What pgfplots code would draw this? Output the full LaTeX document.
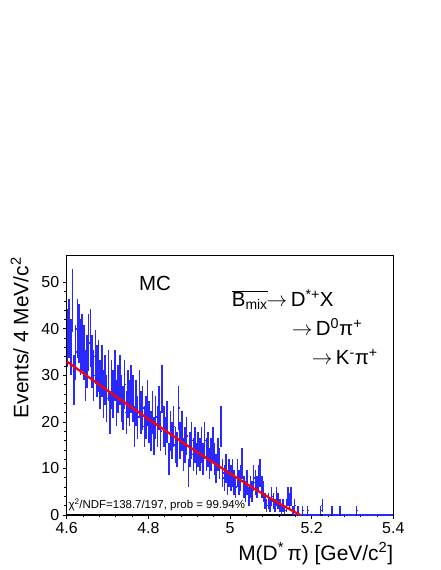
\documentclass[border=0pt]{standalone}
\usepackage{pgfplots}
\pgfplotsset{compat=1.18}
\usepackage{pgfplotstable}
\usepackage{fontspec}
\setmainfont{Liberation Sans}
\definecolor{histblue}{RGB}{40,40,255}
\pgfplotstableread[row sep=\\]{
x y\\
4.602 38\\ 4.606 40\\ 4.610 36\\ 4.614 46\\ 4.618 29\\ 4.622 35\\ 4.626 40\\ 4.630 39\\ 4.634 36\\ 4.638 37\\
4.642 35\\ 4.646 30\\ 4.650 33\\ 4.654 37\\ 4.658 38\\ 4.662 33\\ 4.666 30\\ 4.670 34\\ 4.674 31\\ 4.678 32\\
4.682 28\\ 4.686 31\\ 4.690 26\\ 4.694 29\\ 4.698 25\\ 4.702 30\\ 4.706 22\\ 4.710 28\\ 4.714 26\\ 4.718 30\\
4.722 24\\ 4.726 27\\ 4.730 29\\ 4.734 25\\ 4.738 23\\ 4.742 28\\ 4.746 22\\ 4.750 26\\ 4.754 24\\ 4.758 27\\
4.762 25\\ 4.766 19\\ 4.770 24\\ 4.774 21\\ 4.778 26\\ 4.782 22\\ 4.786 23\\ 4.790 19\\ 4.794 21\\ 4.798 24\\
4.802 20\\ 4.806 18\\ 4.810 22\\ 4.814 17\\ 4.818 21\\ 4.822 19\\ 4.826 23\\ 4.830 18\\ 4.834 27\\ 4.838 19\\
4.842 17\\ 4.846 20\\ 4.850 12\\ 4.854 18\\ 4.858 16\\ 4.862 19\\ 4.866 15\\ 4.870 14\\ 4.874 23\\ 4.878 16\\
4.882 18\\ 4.886 13\\ 4.890 15\\ 4.894 17\\ 4.898 9\\ 4.902 14\\ 4.906 16\\ 4.910 13\\ 4.914 15\\ 4.918 12\\
4.922 14\\ 4.926 13\\ 4.930 15\\ 4.934 12\\ 4.938 16\\ 4.942 13\\ 4.946 14\\ 4.950 11\\ 4.954 13\\ 4.958 15\\
4.962 12\\ 4.966 10\\ 4.970 13\\ 4.974 11\\ 4.978 19\\ 4.982 9\\ 4.986 8\\ 4.990 10\\ 4.994 7\\ 4.998 9\\
5.002 8\\ 5.006 9\\ 5.010 7\\ 5.014 6\\ 5.018 9\\ 5.022 7\\ 5.026 8\\ 5.030 11\\ 5.034 6\\ 5.038 5\\
5.042 7\\ 5.046 4\\ 5.050 6\\ 5.054 5\\ 5.058 8\\ 5.062 7\\ 5.066 6\\ 5.070 8\\ 5.074 9\\ 5.078 6\\
5.082 5\\ 5.086 3\\ 5.090 2\\ 5.094 3\\ 5.098 2\\ 5.102 4\\ 5.106 3\\ 5.110 2\\ 5.114 4\\ 5.118 3\\
5.122 2\\ 5.126 1\\ 5.130 2\\ 5.134 1\\ 5.138 2\\ 5.142 4\\ 5.146 3\\ 5.150 4\\ 5.154 1\\ 5.158 2\\
5.162 0\\ 5.166 1\\ 5.170 0\\ 5.174 0\\ 5.178 1\\ 5.182 0\\ 5.186 0\\ 5.190 1\\ 5.194 0\\ 5.198 0\\
5.202 0\\ 5.206 0\\ 5.210 0\\ 5.214 0\\ 5.218 0\\ 5.222 1\\ 5.226 2\\ 5.230 0\\ 5.234 0\\ 5.238 0\\
5.242 0\\ 5.246 0\\ 5.250 1\\ 5.254 0\\ 5.258 0\\ 5.262 0\\ 5.266 0\\ 5.270 1\\ 5.274 0\\ 5.278 0\\
5.282 0\\ 5.286 0\\ 5.290 0\\ 5.294 0\\ 5.298 0\\ 5.302 0\\ 5.306 0\\ 5.310 1\\ 5.314 0\\ 5.318 0\\
5.322 0\\ 5.326 0\\ 5.330 0\\ 5.334 0\\ 5.338 0\\ 5.342 0\\ 5.346 0\\ 5.350 0\\ 5.354 0\\ 5.358 0\\
5.362 0\\ 5.366 0\\ 5.370 0\\ 5.374 0\\ 5.378 0\\ 5.382 0\\ 5.386 0\\ 5.390 0\\ 5.394 0\\ 5.398 0\\
}\histdata
\pgfplotstableread[row sep=\\]{
x y\\
4.600 33.0\\ 4.650 29.86\\ 4.700 26.74\\ 4.750 23.66\\ 4.800 20.63\\ 4.850 17.62\\
4.900 14.66\\ 4.950 11.76\\ 5.000 8.92\\ 5.050 6.16\\ 5.100 3.51\\ 5.150 1.05\\ 5.172 0.0\\
}\fitdata
\begin{document}
\begin{tikzpicture}
\useasboundingbox (0,0) rectangle (441bp,570bp);
\begin{axis}[
  at={(66.7bp,55bp)}, anchor=south west,
  scale only axis, width=326.6bp, height=259.3bp,
  xmin=4.6, xmax=5.4, ymin=0, ymax=55.7,
  xtick={4.6,4.8,5,5.2,5.4}, ytick={0,10,20,30,40,50},
  minor x tick num=4, minor y tick num=4,
  tick align=outside, xtick pos=left, ytick pos=left,
  major tick length=4bp, minor tick length=2.5bp,
  axis line style={line width=1.2bp},
  tick style={black, line width=0.6bp},
  /pgf/number format/assume math mode=true,
  tick label style={font=\fontsize{16}{16}\selectfont},
  xticklabel style={/pgf/number format/.cd, fixed, precision=1},
  axis on top=false,
  clip=false,
]
\addplot[draw=none, mark=none,
  error bars/.cd, x dir=both, x fixed=0.002, y dir=both, y explicit,
  error mark=none, error bar style={draw=histblue, solid, line width=1.5bp}]
  table[x=x, y=y, y error expr=sqrt(\thisrow{y})] {\histdata};
\addplot[red, line width=2.2bp, no marks] table[x=x, y=y] {\fitdata};
\end{axis}
\node[anchor=base, font=\fontsize{20.5}{20.5}\selectfont] at (155bp,279.3bp) {MC};
\node[anchor=base west, inner sep=0pt, font=\fontsize{20.5}{20.5}\selectfont] at (231.7bp,263.3bp)
  {$\overline{\hbox{B}_{\hbox{\fontsize{14}{14}\selectfont mix}}}$\kern-1pt$\rightarrow$\,D\textsuperscript{*+}X};
\node[anchor=base west, inner sep=0pt, font=\fontsize{20.5}{20.5}\selectfont] at (291.7bp,234bp)
  {$\rightarrow$\,D\textsuperscript{0}π\textsuperscript{+}};
\node[anchor=base west, inner sep=0pt, font=\fontsize{20.5}{20.5}\selectfont] at (311.7bp,205bp)
  {$\rightarrow$\,K\textsuperscript{-}π\textsuperscript{+}};
\node[anchor=base west, inner sep=0pt, font=\fontsize{11.5}{11.5}\selectfont] at (68.3bp,61.5bp)
  {χ\textsuperscript{2}/NDF=138.7/197, prob = 99.94\%};
\node[anchor=base east, inner sep=0pt, rotate=90, font=\fontsize{21}{21}\selectfont] at (28.3bp,313bp)
  {Events/ 4 MeV/c\textsuperscript{2}};
\node[anchor=base east, inner sep=0pt, font=\fontsize{21}{21}\selectfont] at (393.3bp,10bp)
  {M(D\textsuperscript{*}\,π) [GeV/c\textsuperscript{2}]};
\end{tikzpicture}
\end{document}
